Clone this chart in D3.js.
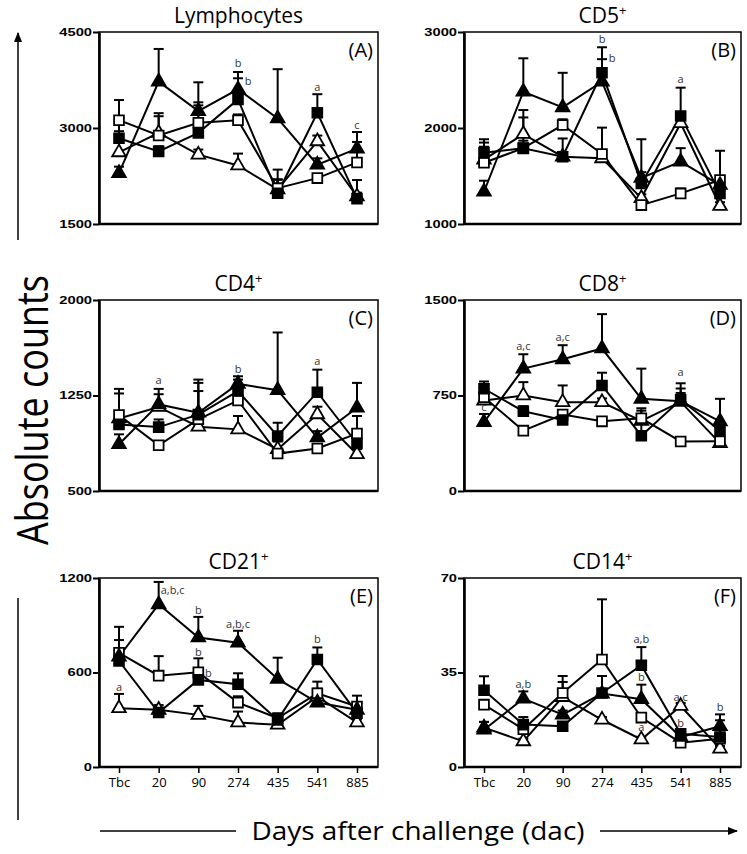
<!DOCTYPE html>
<html><head><meta charset="utf-8">
<script src="https://cdn.jsdelivr.net/npm/d3@7"></script>
<style>body{margin:0;background:#fff} svg{display:block}</style>
</head><body><svg id="c" width="747" height="854"></svg>
<script>
// ---------- DATA ----------
const categories = ["Tbc","20","90","274","435","541","885"];
const panelIds = ["A","B","C","D","E","F"];
const panelTitles = ["Lymphocytes","CD5","CD4","CD8","CD21","CD14"];
const titleSup = ["","+","+","+","+","+"];
const yMin = [1500,1000,500,0,0,0];
const yMax = [4500,3000,2000,1500,1200,70];
const yTickValues = [[1500,3000,4500],[1000,2000,3000],[500,1250,2000],[0,750,1500],[0,600,1200],[0,35,70]];
const seriesKinds = ["openTri","openSq","filledTri","filledSq"];

// Panel A: Lymphocytes
const A_filledSq = [2840,2635,2924,3447,1980,3238,1897], A_filledSq_sd = [110,80,430,330,220,290,290];
const A_openSq   = [3122,2882,3081,3122,2060,2217,2462], A_openSq_sd   = [315,350,320,90,290,60,320];
const A_filledTri= [2296,3725,3264,3605,3149,2426,2677], A_filledTri_sd= [100,510,450,270,770,100,260];
const A_openTri  = [2620,2924,2583,2415,2040,2792,1930], A_openTri_sd  = [450,260,80,185,150,90,60];
// Panel B: CD5+
const B_filledSq = [1743,1788,1701,2576,1423,2125,1319], B_filledSq_sd = [140,80,190,265,460,295,60];
const B_openSq   = [1638,1790,2031,1729,1197,1319,1458], B_openSq_sd   = [210,320,60,275,40,50,305];
const B_filledTri= [1336,2378,2215,2482,1480,1650,1406], B_filledTri_sd= [115,348,360,235,60,140,60];
const B_openTri  = [1670,1937,1701,1684,1270,2050,1187], B_openTri_sd  = [135,250,50,50,40,60,40];
// Panel C: CD4+
const C_filledSq = [1023,1002,1100,1285,932,1276,873], C_filledSq_sd = [60,60,185,90,104,177,60];
const C_openSq   = [1096,859,1063,1211,794,834,951],   C_openSq_sd   = [206,30,286,60,40,30,138];
const C_filledTri= [867,1180,1115,1341,1292,920,1154], C_filledTri_sd= [78,122,260,60,453,50,195];
const C_openTri  = [1070,1160,1005,984,828,1102,789],  C_openTri_sd  = [196,100,30,105,60,60,40];
// Panel D: CD8+
const D_filledSq = [803,626,558,829,434,716,474], D_filledSq_sd = [57,40,30,100,100,130,40];
const D_openSq   = [737,474,600,547,571,389,390], D_openSq_sd   = [40,20,30,30,60,20,20];
const D_filledTri= [540,961,1034,1119,724,705,547], D_filledTri_sd= [65,113,111,270,237,100,177];
const D_openTri  = [710,750,697,697,550,700,376], D_openTri_sd  = [60,105,132,30,100,70,30];
// Panel E: CD21+
const E_filledSq = [673,346,553,525,299,683,342], E_filledSq_sd = [133,30,50,70,30,76,60];
const E_openSq   = [725,580,601,409,310,468,384], E_openSq_sd   = [165,124,89,40,30,74,69];
const E_filledTri= [700,1033,822,789,559,409,363], E_filledTri_sd= [50,142,131,76,135,40,40];
const E_openTri  = [373,363,331,283,268,447,283], E_openTri_sd  = [91,30,57,69,20,50,20];
// Panel F: CD14+
const F_filledSq = [28.4,15.7,15.1,27.4,37.7,12.3,11.1], F_filledSq_sd = [5.2,2.8,1.5,6.3,6.7,1.5,6.2];
const F_openSq   = [23.1,14.0,27.4,39.8,18.3,9.0,10.5], F_openSq_sd   = [1.5,1.5,6.3,22.3,1.5,1.0,1.5];
const F_filledTri= [13.8,25.3,19.4,27.2,25.1,11.1,15.1], F_filledTri_sd= [2.9,2.7,1.5,1.5,5.4,1.0,4.4];
const F_openTri  = [14.6,9.5,25.9,17.5,10.2,22.6,6.8], F_openTri_sd  = [2.1,1.0,5.6,1.0,1.0,1.1,1.0];

// Significance letters: [category, value, text]
const A_annot = [["274",4013,"b"],["274",3735,"b"],["541",3641,"a"],["885",3050,"c"]];
const B_annot = [["274",2924,"b"],["274",2726,"b"],["541",2507,"a"]];
const C_annot = [["20",1375,"a"],["274",1461,"b"],["541",1518,"a"]];
const D_annot = [["Tbc",658,"c"],["20",1137,"a,c"],["90",1210,"a,c"],["541",934,"a"]];
const E_annot = [["Tbc",510,"a"],["20",1126,"a,b,c"],["90",995,"b"],["90",728,"b"],["90",595,"b"],["274",911,"a,b,c"],["541",810,"b"]];
const F_annot = [["20",30.6,"a,b"],["435",47.5,"a,b"],["435",33.3,"b"],["435",14.8,"a"],["541",25.9,"a,c"],["541",16.3,"b"],["885",22.2,"b"]];

// ---------- assemble ----------
const panelSeries = {
  A:{filledSq:[A_filledSq,A_filledSq_sd],openSq:[A_openSq,A_openSq_sd],filledTri:[A_filledTri,A_filledTri_sd],openTri:[A_openTri,A_openTri_sd]},
  B:{filledSq:[B_filledSq,B_filledSq_sd],openSq:[B_openSq,B_openSq_sd],filledTri:[B_filledTri,B_filledTri_sd],openTri:[B_openTri,B_openTri_sd]},
  C:{filledSq:[C_filledSq,C_filledSq_sd],openSq:[C_openSq,C_openSq_sd],filledTri:[C_filledTri,C_filledTri_sd],openTri:[C_openTri,C_openTri_sd]},
  D:{filledSq:[D_filledSq,D_filledSq_sd],openSq:[D_openSq,D_openSq_sd],filledTri:[D_filledTri,D_filledTri_sd],openTri:[D_openTri,D_openTri_sd]},
  E:{filledSq:[E_filledSq,E_filledSq_sd],openSq:[E_openSq,E_openSq_sd],filledTri:[E_filledTri,E_filledTri_sd],openTri:[E_openTri,E_openTri_sd]},
  F:{filledSq:[F_filledSq,F_filledSq_sd],openSq:[F_openSq,F_openSq_sd],filledTri:[F_filledTri,F_filledTri_sd],openTri:[F_openTri,F_openTri_sd]}
};
const panelAnnot = {A:A_annot,B:B_annot,C:C_annot,D:D_annot,E:E_annot,F:F_annot};
const annotDx = {"A|274|3735":10,"B|274|2726":10,"E|20|1126":14,"E|90|595":10};

// ---------- layout ----------
const svg = d3.select("#c");
const colX = [[99,378],[464,741]];
const rowY = [[32,224],[300,491],[578,767]];
const FONT = "'Open Sans', sans-serif";

panelIds.forEach((id,i) => {
  const [x0,x1] = colX[i%2], [y0,y1] = rowY[Math.floor(i/2)];
  const x = d3.scalePoint().domain(categories).range([x0+20, x1-21]);
  const y = d3.scaleLinear().domain([yMin[i],yMax[i]]).range([y1,y0]);
  const g = svg.append("g");

  // frame
  g.append("rect").attr("x",x0).attr("y",y0).attr("width",x1-x0).attr("height",y1-y0)
    .attr("fill","none").attr("stroke","#000").attr("stroke-width",1.5);

  // y axis
  const ax = g.append("g").attr("transform",`translate(${x0},0)`)
    .call(d3.axisLeft(y).tickValues(yTickValues[i]).tickSize(6).tickSizeOuter(0).tickFormat(d3.format("d")));
  ax.select(".domain").attr("stroke-width",2.6);
  ax.selectAll(".tick line").attr("stroke-width",2);
  ax.selectAll(".tick text").attr("font-family","'Liberation Sans', Arial, sans-serif")
    .attr("font-weight","bold").attr("font-size",10.5).attr("x",-7/1.4)
    .attr("transform","scale(1.4,1)");
  // x axis baseline
  const bx = g.append("g").attr("transform",`translate(0,${y1})`)
    .call(d3.axisBottom(x).tickSize(i>=4?6:0).tickSizeOuter(0).tickFormat(i>=4?null:""));
  bx.select(".domain").attr("stroke-width",2.6).attr("d",`M${x0},0H${x1}`);
  bx.selectAll(".tick line").attr("stroke-width",1.5);
  bx.selectAll(".tick text").attr("font-family",FONT).attr("font-size",13).attr("y",11);

  // title
  const t = g.append("text").attr("x",(x0+x1)/2).attr("y",y0-9).attr("text-anchor","middle")
    .attr("font-family",FONT).attr("font-size",21).text(panelTitles[i]);
  if (titleSup[i]) t.append("tspan").attr("font-size",13).attr("dy",-8).text(titleSup[i]);
  // panel letter
  g.append("text").attr("x",x1-5).attr("y",y0+25).attr("text-anchor","end")
    .attr("font-family",FONT).attr("font-size",20).text(`(${id})`);

  const ser = panelSeries[id];
  // lines
  seriesKinds.forEach(k => {
    const vals = ser[k][0];
    g.append("path").datum(vals.map((v,j)=>[categories[j],v]))
      .attr("fill","none").attr("stroke","#000").attr("stroke-width",2)
      .attr("d", d3.line().x(d=>x(d[0])).y(d=>y(d[1])));
  });
  // error bars
  seriesKinds.forEach(k => {
    const [vals,sd] = ser[k];
    vals.forEach((v,j) => {
      const cx = x(categories[j]), top = y(v+sd[j]);
      g.append("line").attr("x1",cx).attr("x2",cx).attr("y1",y(v)).attr("y2",top)
        .attr("stroke","#000").attr("stroke-width",2);
      g.append("line").attr("x1",cx-5).attr("x2",cx+5).attr("y1",top).attr("y2",top)
        .attr("stroke","#000").attr("stroke-width",2);
    });
  });
  // markers
  seriesKinds.forEach(k => {
    const vals = ser[k][0];
    const tri = k.includes("Tri"), filled = k.startsWith("filled");
    const sym = d3.symbol().type(tri ? d3.symbolTriangle : d3.symbolSquare).size(tri ? 80 : 96);
    vals.forEach((v,j) => {
      g.append("path").attr("d",sym())
        .attr("transform",`translate(${x(categories[j])},${y(v)})`)
        .attr("fill", filled ? "#000" : "#fff").attr("stroke","#000").attr("stroke-width",1.8);
    });
  });
  // annotations
  panelAnnot[id].forEach(([c,v,txt]) => {
    const dx = annotDx[`${id}|${c}|${v}`] || 0;
    g.append("text").attr("x",x(c)+dx).attr("y",y(v)+4).attr("text-anchor","middle")
      .attr("font-family",FONT).attr("font-size",11).attr("fill","#333").text(txt);
  });
});

// ---------- global axis labels ----------
const defs = svg.append("defs");
defs.append("marker").attr("id","arr").attr("viewBox","0 0 10 10").attr("refX",9).attr("refY",5)
  .attr("markerWidth",7).attr("markerHeight",7).attr("orient","auto")
  .append("path").attr("d","M0,1L10,5L0,9Z").attr("fill","#000");

svg.append("line").attr("x1",18).attr("x2",18).attr("y1",240).attr("y2",33)
  .attr("stroke","#000").attr("stroke-width",1.5).attr("marker-end","url(#arr)");
svg.append("line").attr("x1",18).attr("x2",18).attr("y1",598).attr("y2",820)
  .attr("stroke","#000").attr("stroke-width",1.5);
svg.append("text").attr("transform","translate(48,410) rotate(-90)").attr("text-anchor","middle")
  .attr("font-family",FONT).attr("font-size",44).attr("textLength",270).attr("lengthAdjust","spacingAndGlyphs")
  .text("Absolute counts");

svg.append("line").attr("x1",100).attr("x2",236).attr("y1",831).attr("y2",831)
  .attr("stroke","#000").attr("stroke-width",1.5);
svg.append("line").attr("x1",600).attr("x2",737).attr("y1",831).attr("y2",831)
  .attr("stroke","#000").attr("stroke-width",1.5).attr("marker-end","url(#arr)");
svg.append("text").attr("x",418).attr("y",840).attr("text-anchor","middle")
  .attr("font-family",FONT).attr("font-size",26).attr("textLength",333).attr("lengthAdjust","spacingAndGlyphs")
  .text("Days after challenge (dac)");
</script></body></html>
